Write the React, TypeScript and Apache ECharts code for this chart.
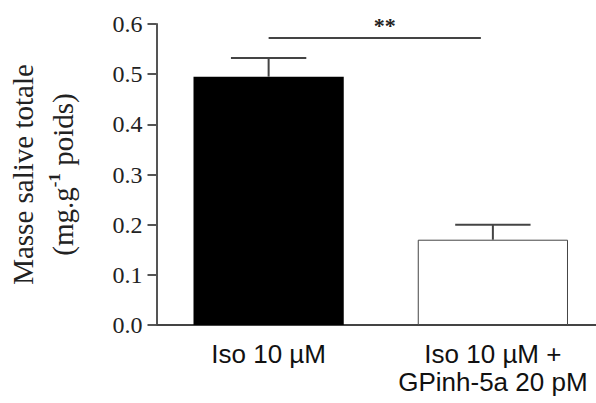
import React, { useEffect, useRef } from "react";
import * as echarts from "echarts";

const categories = ["Iso 10 µM", "Iso 10 µM +\nGPinh-5a 20 pM"];
const meanValues = [0.495, 0.170];
const semValues = [0.037, 0.030];
const barColors = ["#000000", "#ffffff"];
const yTicks = { min: 0, max: 0.6, interval: 0.1 };
const significance = { from: 0, to: 1, level: 0.572, label: "**" };

export default function App() {
  const ref = useRef<HTMLDivElement>(null);
  useEffect(() => {
    if (!ref.current) return;
    const chart = echarts.init(ref.current, null, { renderer: "svg" });
    const serif = "'Liberation Serif', 'Times New Roman', serif";
    const sans = "'Liberation Sans', Arial, sans-serif";
    chart.setOption({
      animation: false,
      backgroundColor: "#ffffff",
      grid: { left: 151, top: 24, bottom: 78, right: 15 },
      xAxis: {
        type: "category",
        data: categories,
        axisLine: { lineStyle: { color: "#444", width: 2 } },
        axisTick: { show: false },
        axisLabel: {
          interval: 0,
          color: "#111",
          fontFamily: sans,
          fontSize: 26,
          lineHeight: 28,
          margin: 15,
        },
      },
      yAxis: {
        type: "value",
        min: yTicks.min,
        max: yTicks.max,
        interval: yTicks.interval,
        splitLine: { show: false },
        axisLine: { show: true, lineStyle: { color: "#555", width: 2 } },
        axisTick: { show: true, length: 9, lineStyle: { color: "#555", width: 2 } },
        axisLabel: {
          color: "#222",
          fontFamily: serif,
          fontSize: 24,
          margin: 14,
          formatter: (v: number) => v.toFixed(1),
        },
        name: "{a|Masse salive totale}\n{b|(mg.g}{sup|-1}{b| poids)}",
        nameLocation: "middle",
        nameRotate: 90,
        nameGap: 74,
        nameTextStyle: {
          rich: {
            a: { fontFamily: serif, fontSize: 29, color: "#222", lineHeight: 40 },
            b: { fontFamily: serif, fontSize: 29, color: "#222", lineHeight: 40 },
            sup: {
              fontFamily: serif,
              fontSize: 17,
              color: "#222",
              fontWeight: "bold",
              padding: [0, 0, 16, 0],
              lineHeight: 40,
            },
          },
        },
      },
      series: [
        {
          type: "bar",
          barWidth: "67%",
          data: meanValues.map((v, i) => ({
            value: v,
            itemStyle: {
              color: barColors[i],
              borderColor: i === 0 ? "#000" : "#444",
              borderWidth: i === 0 ? 0 : 1,
            },
          })),
          z: 2,
        },
        {
          type: "custom",
          clip: false,
          z: 3,
          data: meanValues.map((v, i) => [i, v, semValues[i]]),
          encode: { x: 0, y: 1 },
          renderItem: (params: any, api: any) => {
            const x = api.value(0);
            const v = api.value(1);
            const e = api.value(2);
            const base = api.coord([x, v]);
            const top = api.coord([x, v + e]);
            const bw = api.size([1, 0])[0];
            const half = bw * 0.168;
            const style = { stroke: "#444", lineWidth: 2 };
            return {
              type: "group",
              children: [
                { type: "line", shape: { x1: base[0], y1: base[1], x2: top[0], y2: top[1] }, style },
                { type: "line", shape: { x1: top[0] - half, y1: top[1], x2: top[0] + half, y2: top[1] }, style },
              ],
            };
          },
        },
        {
          type: "custom",
          clip: false,
          z: 3,
          data: [[significance.from, significance.to, significance.level]],
          encode: { x: 0, y: 2 },
          renderItem: (params: any, api: any) => {
            const p1 = api.coord([api.value(0), api.value(2)]);
            const p2 = api.coord([api.value(1), api.value(2)]);
            const x2 = p2[0] - 12;
            return {
              type: "group",
              children: [
                {
                  type: "line",
                  shape: { x1: p1[0], y1: p1[1], x2, y2: p1[1] },
                  style: { stroke: "#444", lineWidth: 2 },
                },
                {
                  type: "text",
                  x: (p1[0] + x2) / 2 + 10,
                  y: p1[1] - 2,
                  style: {
                    text: significance.label,
                    fontFamily: serif,
                    fontSize: 22,
                    fontWeight: "bold",
                    fill: "#222",
                    align: "center",
                    verticalAlign: "bottom",
                  },
                },
              ],
            };
          },
        },
      ],
    });
    return () => chart.dispose();
  }, []);
  return (
    <div style={{ position: "fixed", left: 0, top: 0, width: 596, height: 403, overflow: "hidden" }}>
      <div ref={ref} style={{ width: 620, height: 403 }} />
    </div>
  );
}
